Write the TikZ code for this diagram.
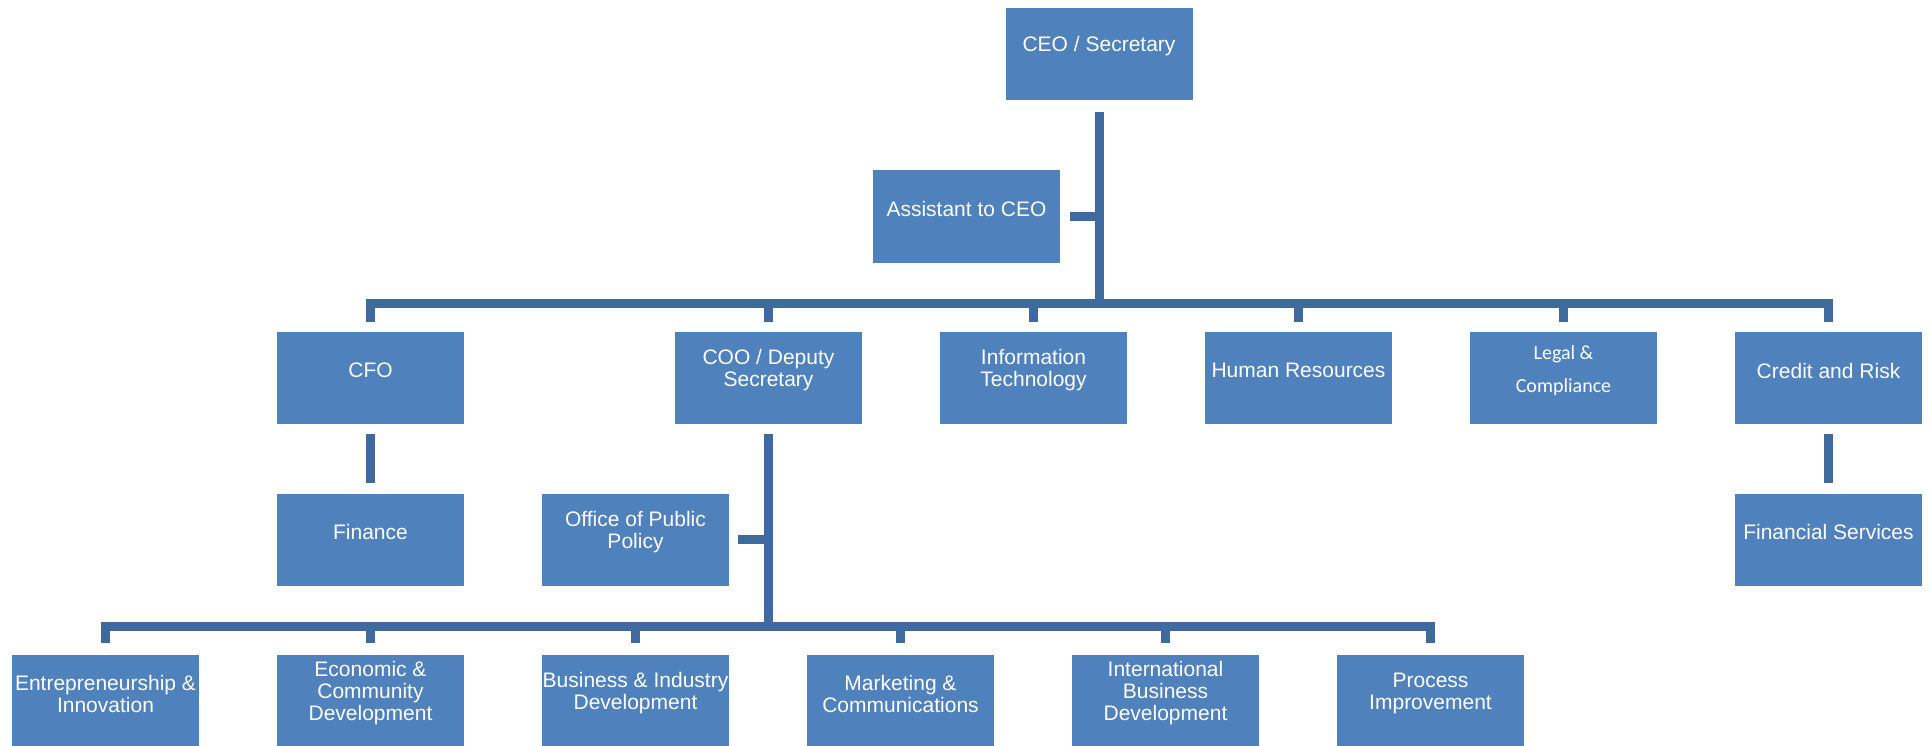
\documentclass[tikz,border=0pt]{standalone}
\usepackage{fontspec}
\setmainfont{Liberation Sans}
\newfontfamily\calib{Carlito}
\definecolor{boxblue}{HTML}{4F81BD}
\definecolor{linkblue}{HTML}{3F6A9F}
\tikzstyle{unitbox}=[rectangle, fill=boxblue, minimum width=187pt, minimum height=92pt, inner sep=0pt]
\tikzstyle{txt}=[text=white, align=center, inner sep=0pt, yshift=7.5pt, font=\fontsize{21}{22}\selectfont]
\tikzstyle{link}=[draw=linkblue, line width=9pt]
\tikzset{unit/.style={unitbox, label={[txt]center:#1}},
	unitc/.style={unitbox, label={[txt, font=\calib\fontsize{20}{33}\selectfont]center:#1}}}

\begin{document}
\begin{tikzpicture}[x=1pt, y=-1pt, node distance=265pt]
	\useasboundingbox (0,0) rectangle (1930,746);
	\node[unit={CEO / Secretary}] (CEO) at (1099,54) {};
	\node[unit={Assistant to CEO}] (AS) at (966.5,216.5) {};
	\node[unit=CFO] (CFO) at (370.5,378) {};
	\node[unit={COO / Deputy\\Secretary}] (COO) [right of=CFO, node distance=398pt] {};
	\node[unit={Information\\Technology}] (IT) [right of=COO] {};
	\node[unit={Human Resources}] (HR) [right of=IT] {};
	\node[unitc={Legal \&\\Compliance}] (LC) [right of=HR] {};
	\node[unit={Credit and Risk}] (CR) [right of=LC] {};
	\node[unit=Finance] (F) [below of=CFO, node distance=161.5pt] {};
	\node[unit={Financial Services}] (FS) [below of=CR, node distance=161.5pt] {};
	\node[unit={Economic \&\\Community\\Development}] (ECD) [below of=F, node distance=161.5pt] {};
	\node[unit={Entrepreneurship \&\\Innovation}] (EI) [left of=ECD] {};
	\node[unit={Business \& Industry\\Development}] (BID) [right of=ECD] {};
	\node[unit={Office of Public\\Policy}] (OPP) [above of=BID, node distance=161.5pt] {};
	\node[unit={Marketing \&\\Communications}] (MC) [right of=BID] {};
	\node[unit={International\\Business\\Development}] (IBD) [right of=MC] {};
	\node[unit={Process\\Improvement}] (PI) [right of=IBD] {};
	\coordinate (B1) at (1099,303);
	\coordinate (B2) at (768.5,626);
	\draw[link] ([yshift=-12pt]CEO.south) -- (CEO |- B1);
	\draw[link] ([xshift=10pt]AS.east) -- (AS.east -| CEO);
	\draw[link] ([yshift=10pt]CFO.north) -- (CFO |- B1) -- (CR |- B1) -- ([yshift=10pt]CR.north);
	\foreach \n in {COO,IT,HR,LC} \draw[link] (\n |- B1) -- ([yshift=10pt]\n.north);
	\draw[link] ([yshift=-10pt]CFO.south) -- ([yshift=10pt]F.north);
	\draw[link] ([yshift=-10pt]CR.south) -- ([yshift=10pt]FS.north);
	\draw[link] ([yshift=-10pt]COO.south) -- (COO |- B2);
	\draw[link] ([xshift=9pt]OPP.east) -- (OPP.east -| COO);
	\draw[link] ([yshift=12pt]EI.north) -- (EI |- B2) -- (PI |- B2) -- ([yshift=12pt]PI.north);
	\foreach \n in {ECD,BID,MC,IBD} \draw[link] (\n |- B2) -- ([yshift=12pt]\n.north);
\end{tikzpicture}
\end{document}
